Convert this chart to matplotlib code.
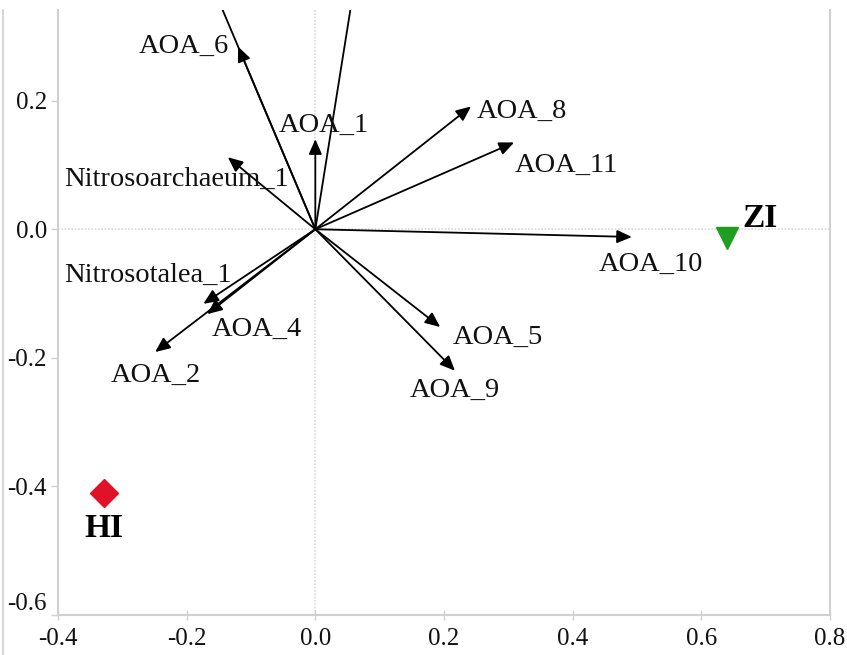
import matplotlib.pyplot as plt
from matplotlib.patches import FancyArrowPatch
from matplotlib.lines import Line2D

# species vectors (arrow tips)
species = ['AOA_1', 'AOA_2', 'AOA_4', 'AOA_5', 'AOA_6', 'AOA_8', 'AOA_9',
           'AOA_10', 'AOA_11', 'Nitrosoarchaeum_1', 'Nitrosotalea_1']
rda1 = [0.000, -0.249, -0.168, 0.194, -0.120, 0.242, 0.217, 0.492, 0.309, -0.136, -0.174]
rda2 = [0.140, -0.191, -0.132, -0.152, 0.284, 0.191, -0.220, -0.012, 0.135, 0.112, -0.116]

# two vectors run off the top of the plot, only their shafts are seen
off_x = [-0.2113, 0.075]
off_y = [0.50, 0.47]

# sites
sites = ['ZI', 'HI']
site_x = [0.640, -0.328]
site_y = [-0.013, -0.411]

xticks = [-0.4, -0.2, 0.0, 0.2, 0.4, 0.6, 0.8]
yticks = [-0.6, -0.4, -0.2, 0.0, 0.2]

# where each label sits (data coords, centre of text)
label_pos = {
    'AOA_1': (0.013, 0.162),
    'AOA_2': (-0.248, -0.227),
    'AOA_4': (-0.091, -0.155),
    'AOA_5': (0.283, -0.168),
    'AOA_6': (-0.204, 0.285),
    'AOA_8': (0.321, 0.184),
    'AOA_9': (0.216, -0.250),
    'AOA_10': (0.522, -0.055),
    'AOA_11': (0.390, 0.100),
    'Nitrosoarchaeum_1': (-0.216, 0.077),
    'Nitrosotalea_1': (-0.260, -0.072),
}

plt.rcParams['font.family'] = ['Liberation Serif', 'DejaVu Serif']

fig = plt.figure(figsize=(8.47, 6.55), dpi=100)
ax = fig.add_axes([58 / 847, 1 - 615 / 655, (830 - 58) / 847, (615 - 10) / 655])
ax.set_xlim(-0.4, 0.8)
ax.set_ylim(-0.6, 0.341)

# zero lines
ax.axhline(0, color='#d9d9d9', lw=1.2, ls=(0, (1, 1)), zorder=0)
ax.axvline(0, color='#d9d9d9', lw=1.2, ls=(0, (1, 1)), zorder=0)

# arrows
arrow_kw = dict(arrowstyle='-|>,head_length=0.5,head_width=0.22', mutation_scale=18,
                color='black', lw=1.3, shrinkA=0, shrinkB=0, zorder=3)
for x, y in zip(rda1, rda2):
    ax.add_patch(FancyArrowPatch((0, 0), (x, y), **arrow_kw))
for x, y in zip(off_x, off_y):
    ax.add_patch(FancyArrowPatch((0, 0), (x, y), **arrow_kw))

for name in species:
    lx, ly = label_pos[name]
    ax.text(lx, ly, name, fontsize=20.5, ha='center', va='center', color='#111111', zorder=4)

# sites
ax.plot(site_x[0], site_y[0], marker='v', ms=16, color='#1f9e1f', ls='none', zorder=5)
ax.plot(site_x[1], site_y[1], marker='D', ms=14, color='#e01228', ls='none', zorder=5)
ax.text(0.691, 0.016, sites[0], fontsize=24, fontweight='bold', ha='center', va='center')
ax.text(-0.328, -0.466, sites[1], fontsize=24, fontweight='bold', ha='center', va='center')

# axes styling
ax.set_xticks(xticks)
ax.set_yticks(yticks)
ax.set_xticklabels(['%.1f' % t for t in xticks])
ax.set_yticklabels(['%.1f' % t for t in yticks])
ax.spines['top'].set_visible(False)
for s in ['left', 'right', 'bottom']:
    ax.spines[s].set_color('#d0d0d0')
    ax.spines[s].set_linewidth(1.5)
ax.tick_params(axis='x', direction='inout', length=7, width=1, color='#d0d0d0',
               labelsize=18, labelcolor='#111111', pad=6)
ax.tick_params(axis='y', direction='out', length=5, width=1, color='#d0d0d0',
               labelsize=18, labelcolor='#111111', pad=3)
ax.get_yticklabels()[0].set_va('bottom')

# thin frame line at the left edge of the image
fig.add_artist(Line2D([3 / 847, 3 / 847], [0, 1 - 10 / 655], color='#d0d0d0', lw=1.2,
                      transform=fig.transFigure))

fig.savefig('out.png', dpi=100)
